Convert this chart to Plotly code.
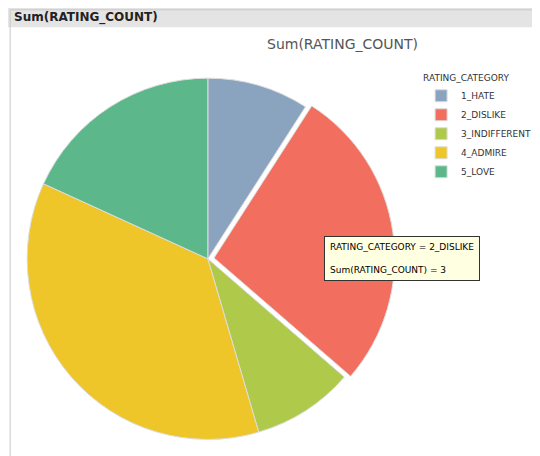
import plotly.graph_objects as go

categories = ["1_HATE", "2_DISLIKE", "3_INDIFFERENT", "4_ADMIRE", "5_LOVE"]
values = [1, 3, 1, 4, 2]
colors = ["#8aa3bf", "#f26e5e", "#afc94a", "#eec62a", "#5cb88a"]
pulls = [0, 0.035, 0, 0, 0]

fig = go.Figure(go.Pie(
    labels=categories, values=values, sort=False, direction="clockwise",
    rotation=0, pull=pulls, textinfo="none", hoverinfo="none",
    marker=dict(colors=colors, line=dict(color="#dddddd", width=1)),
    domain=dict(x=[0.0, 0.74], y=[0.04, 0.86]),
))

fig.update_layout(
    width=540, height=456, margin=dict(l=0, r=0, t=0, b=0),
    paper_bgcolor="white", plot_bgcolor="white",
    font=dict(family="DejaVu Sans", size=9, color="#333"),
    legend=dict(x=0.765, y=0.865, xanchor="left", yanchor="top",
                title=dict(text="RATING_CATEGORY", font=dict(size=9)),
                font=dict(size=9), itemwidth=30, tracegroupgap=0),
    shapes=[
        dict(type="rect", xref="paper", yref="paper", x0=0, x1=1, y0=0.958, y1=1,
             fillcolor="#e4e4e4", line=dict(width=0)),
        dict(type="rect", xref="paper", yref="paper", x0=0.004, x1=0.996, y0=0.004, y1=0.996,
             fillcolor="rgba(0,0,0,0)", line=dict(color="#c8c8c8", width=1)),
    ],
    annotations=[
        dict(text="<b>Sum(RATING_COUNT)</b>", x=0.008, y=0.979, xref="paper", yref="paper",
             xanchor="left", yanchor="middle", showarrow=False, font=dict(size=12, color="#222")),
        dict(text="Sum(RATING_COUNT)", x=0.62, y=0.92, xref="paper", yref="paper",
             xanchor="center", yanchor="middle", showarrow=False, font=dict(size=14, color="#555")),
        dict(text="RATING_CATEGORY = 2_DISLIKE<br><br>Sum(RATING_COUNT) = 3",
             x=0.585, y=0.50, xref="paper", yref="paper", xanchor="left", yanchor="top",
             align="left", showarrow=False, bgcolor="#ffffe1", bordercolor="#333",
             borderwidth=1, borderpad=5, font=dict(size=9, color="#000")),
    ],
)
fig.write_html("out.html")
